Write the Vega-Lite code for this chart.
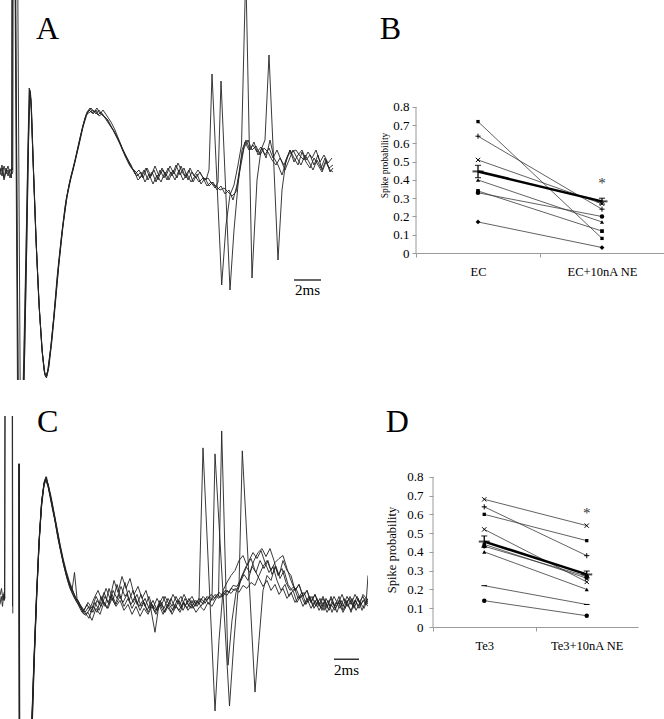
{
"$schema":"https://vega.github.io/schema/vega-lite/v6.json",
"padding":0,
"background":"white",
"config":{
 "view":{"stroke":null},
 "font":"Liberation Serif",
 "title":{"font":"Liberation Serif","fontSize":32,"fontWeight":"normal","anchor":"start","color":"#000"},
 "axis":{"labelFont":"Liberation Serif","titleFont":"Liberation Serif","labelColor":"#000","titleColor":"#000","titleFontWeight":"normal","domainColor":"#9a9a9a","tickColor":"#9a9a9a","grid":false,"tickSize":4,"labelFontSize":13}
},
"datasets":{
"A":[
{"k":"a1","t":0,"v":3},{"k":"a1","t":2,"v":10},{"k":"a1","t":4,"v":-3},{"k":"a1","t":6,"v":7},{"k":"a1","t":8,"v":-1},{"k":"a1","t":10,"v":6},{"k":"a1","t":12,"v":1},{"k":"a1","t":12.8,"v":3},{"k":"a1","t":13.2,"v":235},{"k":"a1","t":15.5,"v":235},{"k":"a1","t":18.3,"v":-265},{"k":"a1","t":22,"v":-265},{"k":"a1","t":24,"v":-185},{"k":"a1","t":26,"v":-85},{"k":"a1","t":28,"v":25},{"k":"a1","t":29.5,"v":86},{"k":"a1","t":31,"v":75},{"k":"a1","t":33,"v":15},{"k":"a1","t":36,"v":-65},{"k":"a1","t":39,"v":-130},{"k":"a1","t":42,"v":-175},{"k":"a1","t":44.5,"v":-198},{"k":"a1","t":46,"v":-202},{"k":"a1","t":48,"v":-195},{"k":"a1","t":51,"v":-170},{"k":"a1","t":54,"v":-140},{"k":"a1","t":58,"v":-95},{"k":"a1","t":62,"v":-57},{"k":"a1","t":66,"v":-25},{"k":"a1","t":70,"v":-5},{"k":"a1","t":74,"v":10},{"k":"a1","t":78,"v":27},{"k":"a1","t":82,"v":45},{"k":"a1","t":86,"v":60},{"k":"a1","t":89,"v":65},{"k":"a1","t":92,"v":62},{"k":"a1","t":95,"v":64},{"k":"a1","t":98,"v":60},{"k":"a1","t":101,"v":63},{"k":"a1","t":104,"v":59},{"k":"a1","t":108,"v":55},{"k":"a1","t":112,"v":47},{"k":"a1","t":116,"v":40},{"k":"a1","t":120,"v":32},{"k":"a1","t":124,"v":23},{"k":"a1","t":128,"v":15},{"k":"a1","t":132,"v":7},{"k":"a1","t":136,"v":3},{"k":"a1","t":140,"v":-3},{"k":"a1","t":144,"v":5},{"k":"a1","t":148,"v":-5},{"k":"a1","t":152,"v":3},{"k":"a1","t":156,"v":-7},{"k":"a1","t":160,"v":5},{"k":"a1","t":164,"v":-3},{"k":"a1","t":168,"v":7},{"k":"a1","t":172,"v":-1},{"k":"a1","t":176,"v":10},{"k":"a1","t":180,"v":0},{"k":"a1","t":184,"v":7},{"k":"a1","t":188,"v":-5},{"k":"a1","t":192,"v":3},{"k":"a1","t":196,"v":-3},{"k":"a1","t":200,"v":3},{"k":"a1","t":204,"v":-5},{"k":"a1","t":208,"v":-3},{"k":"a1","t":212,"v":-9},{"k":"a1","t":216,"v":-11},{"k":"a1","t":220,"v":-15},{"k":"a1","t":224,"v":-13},{"k":"a1","t":228,"v":-17},{"k":"a1","t":232,"v":-21},{"k":"a1","t":236,"v":-17},{"k":"a1","t":240,"v":5},{"k":"a1","t":244,"v":27},{"k":"a1","t":248,"v":35},{"k":"a1","t":252,"v":25},{"k":"a1","t":256,"v":29},{"k":"a1","t":260,"v":20},{"k":"a1","t":264,"v":27},{"k":"a1","t":268,"v":23},{"k":"a1","t":272,"v":15},{"k":"a1","t":276,"v":10},{"k":"a1","t":280,"v":17},{"k":"a1","t":284,"v":10},{"k":"a1","t":288,"v":20},{"k":"a1","t":292,"v":23},{"k":"a1","t":296,"v":25},{"k":"a1","t":300,"v":19},{"k":"a1","t":304,"v":15},{"k":"a1","t":308,"v":23},{"k":"a1","t":312,"v":17},{"k":"a1","t":316,"v":25},{"k":"a1","t":320,"v":13},{"k":"a1","t":324,"v":20},{"k":"a1","t":328,"v":12},{"k":"a1","t":332,"v":17},
{"k":"a2","t":0,"v":7},{"k":"a2","t":2,"v":-1},{"k":"a2","t":4,"v":9},{"k":"a2","t":6,"v":1},{"k":"a2","t":8,"v":5},{"k":"a2","t":10,"v":-3},{"k":"a2","t":12,"v":7},{"k":"a2","t":12.3,"v":5},{"k":"a2","t":12.6,"v":235},{"k":"a2","t":15,"v":235},{"k":"a2","t":18.6,"v":-265},{"k":"a2","t":22.5,"v":-265},{"k":"a2","t":24.5,"v":-185},{"k":"a2","t":26.5,"v":-80},{"k":"a2","t":28.5,"v":35},{"k":"a2","t":30,"v":83},{"k":"a2","t":31.5,"v":65},{"k":"a2","t":33.5,"v":5},{"k":"a2","t":36.5,"v":-75},{"k":"a2","t":39.5,"v":-137},{"k":"a2","t":42.5,"v":-180},{"k":"a2","t":45,"v":-199},{"k":"a2","t":47,"v":-201},{"k":"a2","t":49,"v":-191},{"k":"a2","t":52,"v":-165},{"k":"a2","t":55,"v":-133},{"k":"a2","t":59,"v":-88},{"k":"a2","t":63,"v":-51},{"k":"a2","t":67,"v":-21},{"k":"a2","t":71,"v":-1},{"k":"a2","t":75,"v":15},{"k":"a2","t":79,"v":33},{"k":"a2","t":83,"v":50},{"k":"a2","t":87,"v":63},{"k":"a2","t":90,"v":67},{"k":"a2","t":93,"v":61},{"k":"a2","t":96,"v":65},{"k":"a2","t":99,"v":59},{"k":"a2","t":102,"v":61},{"k":"a2","t":105,"v":57},{"k":"a2","t":109,"v":51},{"k":"a2","t":113,"v":45},{"k":"a2","t":117,"v":37},{"k":"a2","t":121,"v":29},{"k":"a2","t":125,"v":19},{"k":"a2","t":129,"v":11},{"k":"a2","t":133,"v":5},{"k":"a2","t":137,"v":-1},{"k":"a2","t":141,"v":3},{"k":"a2","t":145,"v":-7},{"k":"a2","t":149,"v":1},{"k":"a2","t":153,"v":-9},{"k":"a2","t":157,"v":0},{"k":"a2","t":161,"v":-7},{"k":"a2","t":165,"v":3},{"k":"a2","t":169,"v":-5},{"k":"a2","t":173,"v":5},{"k":"a2","t":177,"v":-3},{"k":"a2","t":181,"v":9},{"k":"a2","t":185,"v":-1},{"k":"a2","t":189,"v":5},{"k":"a2","t":193,"v":-7},{"k":"a2","t":197,"v":1},{"k":"a2","t":201,"v":-9},{"k":"a2","t":205,"v":-3},{"k":"a2","t":209,"v":-11},{"k":"a2","t":213,"v":-7},{"k":"a2","t":217,"v":-15},{"k":"a2","t":221,"v":-11},{"k":"a2","t":225,"v":-19},{"k":"a2","t":229,"v":-15},{"k":"a2","t":233,"v":-25},{"k":"a2","t":237,"v":-10},{"k":"a2","t":241,"v":15},{"k":"a2","t":245,"v":33},{"k":"a2","t":249,"v":25},{"k":"a2","t":253,"v":30},{"k":"a2","t":257,"v":23},{"k":"a2","t":261,"v":28},{"k":"a2","t":265,"v":20},{"k":"a2","t":269,"v":27},{"k":"a2","t":273,"v":17},{"k":"a2","t":277,"v":25},{"k":"a2","t":281,"v":15},{"k":"a2","t":285,"v":5},{"k":"a2","t":289,"v":15},{"k":"a2","t":293,"v":25},{"k":"a2","t":297,"v":17},{"k":"a2","t":301,"v":10},{"k":"a2","t":305,"v":20},{"k":"a2","t":309,"v":13},{"k":"a2","t":313,"v":5},{"k":"a2","t":317,"v":15},{"k":"a2","t":321,"v":7},{"k":"a2","t":325,"v":17},{"k":"a2","t":329,"v":7},{"k":"a2","t":333,"v":10},
{"k":"a3","t":17.5,"v":235},{"k":"a3","t":20.5,"v":-265},{"k":"a3","t":22.8,"v":-265},{"k":"a3","t":24.7,"v":-175},{"k":"a3","t":26.7,"v":-75},{"k":"a3","t":28.6,"v":35},{"k":"a3","t":29.8,"v":85},{"k":"a3","t":31.3,"v":70},{"k":"a3","t":33.3,"v":10},{"k":"a3","t":36.3,"v":-70},{"k":"a3","t":39.3,"v":-133},{"k":"a3","t":42.3,"v":-177},{"k":"a3","t":44.8,"v":-200},{"k":"a3","t":46.5,"v":-203},{"k":"a3","t":48.5,"v":-193},{"k":"a3","t":51.5,"v":-167},{"k":"a3","t":55,"v":-130},{"k":"a3","t":59,"v":-87},{"k":"a3","t":63,"v":-50},{"k":"a3","t":67,"v":-22},{"k":"a3","t":71,"v":-3},{"k":"a3","t":75,"v":13},{"k":"a3","t":79,"v":30},{"k":"a3","t":83,"v":48},{"k":"a3","t":87,"v":61},{"k":"a3","t":90,"v":63},{"k":"a3","t":93,"v":65},{"k":"a3","t":96,"v":61},{"k":"a3","t":99,"v":65},{"k":"a3","t":102,"v":60},{"k":"a3","t":106,"v":57},{"k":"a3","t":110,"v":50},{"k":"a3","t":114,"v":44},{"k":"a3","t":118,"v":36},{"k":"a3","t":122,"v":26},{"k":"a3","t":126,"v":18},{"k":"a3","t":130,"v":9},{"k":"a3","t":134,"v":4},{"k":"a3","t":138,"v":-5},{"k":"a3","t":142,"v":-1},{"k":"a3","t":146,"v":7},{"k":"a3","t":150,"v":-3},{"k":"a3","t":154,"v":5},{"k":"a3","t":158,"v":-5},{"k":"a3","t":162,"v":7},{"k":"a3","t":166,"v":-1},{"k":"a3","t":170,"v":9},{"k":"a3","t":174,"v":1},{"k":"a3","t":178,"v":12},{"k":"a3","t":182,"v":3},{"k":"a3","t":186,"v":-3},{"k":"a3","t":190,"v":7},{"k":"a3","t":194,"v":-1},{"k":"a3","t":198,"v":5},{"k":"a3","t":202,"v":-1},{"k":"a3","t":206,"v":-5},{"k":"a3","t":209,"v":5},{"k":"a3","t":212,"v":101},{"k":"a3","t":221.7,"v":-110},{"k":"a3","t":226,"v":-50},{"k":"a3","t":230,"v":-20},{"k":"a3","t":234,"v":-10},{"k":"a3","t":238,"v":10},{"k":"a3","t":241.5,"v":30},{"k":"a3","t":245.8,"v":205},{"k":"a3","t":252,"v":-103},{"k":"a3","t":257,"v":-5},{"k":"a3","t":261,"v":25},{"k":"a3","t":265,"v":35},{"k":"a3","t":269,"v":120},{"k":"a3","t":278,"v":-85},{"k":"a3","t":282,"v":-15},{"k":"a3","t":286,"v":15},{"k":"a3","t":290,"v":25},{"k":"a3","t":294,"v":13},{"k":"a3","t":298,"v":20},{"k":"a3","t":302,"v":25},{"k":"a3","t":306,"v":15},{"k":"a3","t":310,"v":20},{"k":"a3","t":314,"v":10},{"k":"a3","t":318,"v":20},{"k":"a3","t":322,"v":5},{"k":"a3","t":326,"v":15},{"k":"a3","t":330,"v":3},{"k":"a3","t":333,"v":7},
{"k":"a4","t":0,"v":0},{"k":"a4","t":2,"v":7},{"k":"a4","t":4,"v":-5},{"k":"a4","t":6,"v":3},{"k":"a4","t":8,"v":9},{"k":"a4","t":10,"v":1},{"k":"a4","t":11.5,"v":-3},{"k":"a4","t":11.8,"v":235},{"k":"a4","t":14.8,"v":235},{"k":"a4","t":17.8,"v":-265},{"k":"a4","t":21.8,"v":-265},{"k":"a4","t":23.8,"v":-180},{"k":"a4","t":25.8,"v":-83},{"k":"a4","t":27.8,"v":20},{"k":"a4","t":29.2,"v":87},{"k":"a4","t":30.7,"v":80},{"k":"a4","t":32.7,"v":25},{"k":"a4","t":35.7,"v":-57},{"k":"a4","t":38.7,"v":-123},{"k":"a4","t":41.7,"v":-170},{"k":"a4","t":44,"v":-195},{"k":"a4","t":45.5,"v":-200},{"k":"a4","t":47.5,"v":-197},{"k":"a4","t":50.5,"v":-175},{"k":"a4","t":53.5,"v":-145},{"k":"a4","t":57,"v":-103},{"k":"a4","t":61,"v":-65},{"k":"a4","t":65,"v":-32},{"k":"a4","t":69,"v":-10},{"k":"a4","t":73,"v":5},{"k":"a4","t":77,"v":23},{"k":"a4","t":81,"v":41},{"k":"a4","t":85,"v":57},{"k":"a4","t":88,"v":63},{"k":"a4","t":91,"v":67},{"k":"a4","t":94,"v":63},{"k":"a4","t":97,"v":67},{"k":"a4","t":100,"v":61},{"k":"a4","t":103,"v":65},{"k":"a4","t":107,"v":59},{"k":"a4","t":111,"v":53},{"k":"a4","t":115,"v":45},{"k":"a4","t":119,"v":35},{"k":"a4","t":123,"v":25},{"k":"a4","t":127,"v":17},{"k":"a4","t":131,"v":10},{"k":"a4","t":135,"v":1},{"k":"a4","t":139,"v":5},{"k":"a4","t":143,"v":-3},{"k":"a4","t":147,"v":7},{"k":"a4","t":151,"v":-1},{"k":"a4","t":155,"v":9},{"k":"a4","t":159,"v":-1},{"k":"a4","t":163,"v":5},{"k":"a4","t":167,"v":-5},{"k":"a4","t":171,"v":3},{"k":"a4","t":175,"v":-5},{"k":"a4","t":179,"v":5},{"k":"a4","t":183,"v":-5},{"k":"a4","t":187,"v":1},{"k":"a4","t":191,"v":-7},{"k":"a4","t":195,"v":-1},{"k":"a4","t":199,"v":-7},{"k":"a4","t":203,"v":-3},{"k":"a4","t":207,"v":-11},{"k":"a4","t":211,"v":-7},{"k":"a4","t":215,"v":-13},{"k":"a4","t":218,"v":-7},{"k":"a4","t":221,"v":94},{"k":"a4","t":230,"v":-115},{"k":"a4","t":234,"v":-55},{"k":"a4","t":238,"v":-10},{"k":"a4","t":242,"v":25},{"k":"a4","t":246,"v":35},{"k":"a4","t":250,"v":25},{"k":"a4","t":254,"v":33},{"k":"a4","t":258,"v":20},{"k":"a4","t":262,"v":27},{"k":"a4","t":266,"v":17},{"k":"a4","t":270,"v":35},{"k":"a4","t":274,"v":17},{"k":"a4","t":278,"v":10},{"k":"a4","t":282,"v":0},{"k":"a4","t":286,"v":13},{"k":"a4","t":290,"v":25},{"k":"a4","t":294,"v":17},{"k":"a4","t":298,"v":10},{"k":"a4","t":302,"v":23},{"k":"a4","t":306,"v":13},{"k":"a4","t":310,"v":7},{"k":"a4","t":314,"v":17},{"k":"a4","t":318,"v":10},{"k":"a4","t":322,"v":3},{"k":"a4","t":326,"v":13},{"k":"a4","t":330,"v":5},{"k":"a4","t":333,"v":3}
],
"C":[
{"k":"p1","t":0,"v":5},{"k":"p1","t":1.5,"v":12},{"k":"p1","t":3,"v":0},{"k":"p1","t":4.2,"v":8},{"k":"p1","t":4.8,"v":2},{"k":"p1","t":5.3,"v":270},{"k":"p1","t":12.4,"v":270},{"k":"p1","t":12.8,"v":-13},
{"k":"p2","t":0,"v":-4},{"k":"p2","t":1.2,"v":4},{"k":"p2","t":2.5,"v":-6},{"k":"p2","t":3.7,"v":6},{"k":"p2","t":4.5,"v":0},{"k":"p2","t":5,"v":270},{"k":"p2","t":12.1,"v":270},{"k":"p2","t":12.5,"v":-6},
{"k":"c1","t":19,"v":137},{"k":"c1","t":19.4,"v":-180},{"k":"c1","t":30.5,"v":-180},{"k":"c1","t":32,"v":-119},{"k":"c1","t":34,"v":-60},{"k":"c1","t":36.5,"v":5},{"k":"c1","t":39,"v":60},{"k":"c1","t":41.5,"v":98},{"k":"c1","t":44,"v":118},{"k":"c1","t":46,"v":122},{"k":"c1","t":48.5,"v":112},{"k":"c1","t":51.5,"v":97},{"k":"c1","t":54.5,"v":82},{"k":"c1","t":57.5,"v":65},{"k":"c1","t":60.5,"v":50},{"k":"c1","t":63.5,"v":36},{"k":"c1","t":66.5,"v":24},{"k":"c1","t":69.5,"v":14},{"k":"c1","t":73,"v":6},{"k":"c1","t":77,"v":-2},{"k":"c1","t":81,"v":-8},{"k":"c1","t":85,"v":-12},{"k":"c1","t":89,"v":-6},{"k":"c1","t":93,"v":-12},{"k":"c1","t":97,"v":0},{"k":"c1","t":101,"v":-6},{"k":"c1","t":105,"v":4},{"k":"c1","t":109,"v":-4},{"k":"c1","t":113,"v":10},{"k":"c1","t":117,"v":2},{"k":"c1","t":121,"v":14},{"k":"c1","t":125,"v":4},{"k":"c1","t":129,"v":10},{"k":"c1","t":133,"v":-2},{"k":"c1","t":137,"v":6},{"k":"c1","t":141,"v":-6},{"k":"c1","t":145,"v":2},{"k":"c1","t":149,"v":-8},{"k":"c1","t":153,"v":0},{"k":"c1","t":157,"v":-10},{"k":"c1","t":161,"v":-2},{"k":"c1","t":165,"v":-12},{"k":"c1","t":169,"v":-4},{"k":"c1","t":173,"v":-10},{"k":"c1","t":177,"v":0},{"k":"c1","t":181,"v":-8},{"k":"c1","t":185,"v":2},{"k":"c1","t":189,"v":-6},{"k":"c1","t":193,"v":0},{"k":"c1","t":197,"v":-6},{"k":"c1","t":201,"v":2},{"k":"c1","t":205,"v":-3},{"k":"c1","t":209,"v":4},{"k":"c1","t":213,"v":0},{"k":"c1","t":217,"v":6},{"k":"c1","t":221,"v":3},{"k":"c1","t":225,"v":10},{"k":"c1","t":229,"v":8},{"k":"c1","t":233,"v":15},{"k":"c1","t":237,"v":14},{"k":"c1","t":241,"v":22},{"k":"c1","t":245,"v":30},{"k":"c1","t":249,"v":40},{"k":"c1","t":253,"v":48},{"k":"c1","t":257,"v":42},{"k":"c1","t":261,"v":50},{"k":"c1","t":265,"v":38},{"k":"c1","t":269,"v":28},{"k":"c1","t":273,"v":34},{"k":"c1","t":277,"v":20},{"k":"c1","t":281,"v":10},{"k":"c1","t":285,"v":16},{"k":"c1","t":289,"v":4},{"k":"c1","t":293,"v":10},{"k":"c1","t":297,"v":-2},{"k":"c1","t":301,"v":5},{"k":"c1","t":305,"v":-4},{"k":"c1","t":309,"v":4},{"k":"c1","t":313,"v":-6},{"k":"c1","t":317,"v":2},{"k":"c1","t":321,"v":-8},{"k":"c1","t":325,"v":0},{"k":"c1","t":329,"v":-10},{"k":"c1","t":333,"v":-2},{"k":"c1","t":337,"v":-12},{"k":"c1","t":341,"v":0},{"k":"c1","t":345,"v":-8},{"k":"c1","t":349,"v":2},{"k":"c1","t":353,"v":-6},{"k":"c1","t":357,"v":4},{"k":"c1","t":361,"v":-4},{"k":"c1","t":365,"v":2},{"k":"c1","t":368,"v":-2},
{"k":"c2","t":19.3,"v":137},{"k":"c2","t":19.8,"v":-180},{"k":"c2","t":30.8,"v":-180},{"k":"c2","t":32.5,"v":-119},{"k":"c2","t":34.5,"v":-55},{"k":"c2","t":37,"v":10},{"k":"c2","t":39.5,"v":65},{"k":"c2","t":42,"v":102},{"k":"c2","t":44.5,"v":120},{"k":"c2","t":46.5,"v":124},{"k":"c2","t":49,"v":110},{"k":"c2","t":52,"v":94},{"k":"c2","t":55,"v":80},{"k":"c2","t":58,"v":62},{"k":"c2","t":61,"v":48},{"k":"c2","t":64,"v":34},{"k":"c2","t":67,"v":22},{"k":"c2","t":70,"v":12},{"k":"c2","t":74,"v":3},{"k":"c2","t":78,"v":-4},{"k":"c2","t":82,"v":-12},{"k":"c2","t":86,"v":-15},{"k":"c2","t":90,"v":-8},{"k":"c2","t":94,"v":2},{"k":"c2","t":98,"v":10},{"k":"c2","t":102,"v":0},{"k":"c2","t":106,"v":12},{"k":"c2","t":110,"v":2},{"k":"c2","t":114,"v":20},{"k":"c2","t":118,"v":8},{"k":"c2","t":122,"v":24},{"k":"c2","t":126,"v":12},{"k":"c2","t":130,"v":22},{"k":"c2","t":134,"v":6},{"k":"c2","t":138,"v":14},{"k":"c2","t":142,"v":2},{"k":"c2","t":146,"v":10},{"k":"c2","t":150,"v":-4},{"k":"c2","t":155,"v":-32},{"k":"c2","t":159,"v":-4},{"k":"c2","t":163,"v":4},{"k":"c2","t":167,"v":-6},{"k":"c2","t":171,"v":2},{"k":"c2","t":175,"v":-8},{"k":"c2","t":179,"v":0},{"k":"c2","t":183,"v":-10},{"k":"c2","t":187,"v":-2},{"k":"c2","t":191,"v":-8},{"k":"c2","t":195,"v":0},{"k":"c2","t":199,"v":-4},{"k":"c2","t":203,"v":4},{"k":"c2","t":207,"v":0},{"k":"c2","t":211,"v":6},{"k":"c2","t":215,"v":2},{"k":"c2","t":219,"v":8},{"k":"c2","t":223,"v":4},{"k":"c2","t":227,"v":10},{"k":"c2","t":231,"v":7},{"k":"c2","t":235,"v":12},{"k":"c2","t":239,"v":8},{"k":"c2","t":243,"v":15},{"k":"c2","t":247,"v":12},{"k":"c2","t":251,"v":18},{"k":"c2","t":255,"v":15},{"k":"c2","t":259,"v":25},{"k":"c2","t":263,"v":34},{"k":"c2","t":267,"v":40},{"k":"c2","t":271,"v":30},{"k":"c2","t":275,"v":38},{"k":"c2","t":279,"v":42},{"k":"c2","t":283,"v":45},{"k":"c2","t":287,"v":32},{"k":"c2","t":291,"v":20},{"k":"c2","t":295,"v":10},{"k":"c2","t":299,"v":16},{"k":"c2","t":303,"v":4},{"k":"c2","t":307,"v":10},{"k":"c2","t":311,"v":-2},{"k":"c2","t":315,"v":6},{"k":"c2","t":319,"v":-6},{"k":"c2","t":323,"v":2},{"k":"c2","t":327,"v":-8},{"k":"c2","t":331,"v":4},{"k":"c2","t":335,"v":-6},{"k":"c2","t":339,"v":4},{"k":"c2","t":343,"v":-10},{"k":"c2","t":347,"v":0},{"k":"c2","t":351,"v":-12},{"k":"c2","t":355,"v":0},{"k":"c2","t":359,"v":-6},{"k":"c2","t":363,"v":6},{"k":"c2","t":368,"v":0},
{"k":"c3","t":18.8,"v":137},{"k":"c3","t":19.3,"v":-180},{"k":"c3","t":30.3,"v":-180},{"k":"c3","t":31.8,"v":-119},{"k":"c3","t":33.8,"v":-62},{"k":"c3","t":36.3,"v":2},{"k":"c3","t":38.8,"v":55},{"k":"c3","t":41.3,"v":95},{"k":"c3","t":43.8,"v":116},{"k":"c3","t":45.5,"v":120},{"k":"c3","t":48,"v":115},{"k":"c3","t":51,"v":102},{"k":"c3","t":54,"v":86},{"k":"c3","t":57,"v":70},{"k":"c3","t":60,"v":54},{"k":"c3","t":63,"v":40},{"k":"c3","t":66,"v":28},{"k":"c3","t":69,"v":18},{"k":"c3","t":72,"v":10},{"k":"c3","t":74.5,"v":28},{"k":"c3","t":77,"v":2},{"k":"c3","t":80,"v":-4},{"k":"c3","t":84,"v":-10},{"k":"c3","t":88,"v":-2},{"k":"c3","t":92,"v":-8},{"k":"c3","t":96,"v":4},{"k":"c3","t":100,"v":-4},{"k":"c3","t":104,"v":8},{"k":"c3","t":108,"v":-2},{"k":"c3","t":112,"v":6},{"k":"c3","t":116,"v":-4},{"k":"c3","t":120,"v":4},{"k":"c3","t":124,"v":-6},{"k":"c3","t":128,"v":2},{"k":"c3","t":132,"v":-8},{"k":"c3","t":136,"v":0},{"k":"c3","t":140,"v":-10},{"k":"c3","t":144,"v":-2},{"k":"c3","t":148,"v":-12},{"k":"c3","t":152,"v":-4},{"k":"c3","t":156,"v":-10},{"k":"c3","t":160,"v":0},{"k":"c3","t":164,"v":-8},{"k":"c3","t":168,"v":2},{"k":"c3","t":172,"v":-6},{"k":"c3","t":176,"v":4},{"k":"c3","t":180,"v":-4},{"k":"c3","t":184,"v":6},{"k":"c3","t":188,"v":-2},{"k":"c3","t":192,"v":4},{"k":"c3","t":196,"v":-4},{"k":"c3","t":199,"v":0},{"k":"c3","t":203,"v":153},{"k":"c3","t":215,"v":-111},{"k":"c3","t":219,"v":-40},{"k":"c3","t":223,"v":10},{"k":"c3","t":227,"v":18},{"k":"c3","t":231,"v":25},{"k":"c3","t":235,"v":30},{"k":"c3","t":239,"v":40},{"k":"c3","t":243,"v":45},{"k":"c3","t":247,"v":35},{"k":"c3","t":251,"v":42},{"k":"c3","t":255,"v":30},{"k":"c3","t":259,"v":22},{"k":"c3","t":263,"v":14},{"k":"c3","t":267,"v":20},{"k":"c3","t":271,"v":10},{"k":"c3","t":275,"v":16},{"k":"c3","t":279,"v":6},{"k":"c3","t":283,"v":12},{"k":"c3","t":287,"v":2},{"k":"c3","t":291,"v":8},{"k":"c3","t":295,"v":-2},{"k":"c3","t":299,"v":4},{"k":"c3","t":303,"v":-6},{"k":"c3","t":307,"v":2},{"k":"c3","t":311,"v":-8},{"k":"c3","t":315,"v":0},{"k":"c3","t":319,"v":-10},{"k":"c3","t":323,"v":-2},{"k":"c3","t":327,"v":-12},{"k":"c3","t":331,"v":-4},{"k":"c3","t":335,"v":-10},{"k":"c3","t":339,"v":0},{"k":"c3","t":343,"v":-6},{"k":"c3","t":347,"v":4},{"k":"c3","t":351,"v":-4},{"k":"c3","t":355,"v":6},{"k":"c3","t":359,"v":-2},{"k":"c3","t":363,"v":4},{"k":"c3","t":366,"v":-4},{"k":"c3","t":368,"v":25},
{"k":"c4","t":19.2,"v":137},{"k":"c4","t":19.7,"v":-180},{"k":"c4","t":31,"v":-180},{"k":"c4","t":32.3,"v":-119},{"k":"c4","t":34.3,"v":-58},{"k":"c4","t":36.8,"v":8},{"k":"c4","t":39.3,"v":62},{"k":"c4","t":41.8,"v":100},{"k":"c4","t":44.3,"v":119},{"k":"c4","t":46.2,"v":123},{"k":"c4","t":48.7,"v":113},{"k":"c4","t":51.7,"v":99},{"k":"c4","t":54.7,"v":84},{"k":"c4","t":57.7,"v":68},{"k":"c4","t":60.7,"v":52},{"k":"c4","t":63.7,"v":38},{"k":"c4","t":66.7,"v":26},{"k":"c4","t":69.7,"v":16},{"k":"c4","t":73,"v":8},{"k":"c4","t":77,"v":0},{"k":"c4","t":81,"v":-6},{"k":"c4","t":85,"v":-12},{"k":"c4","t":89,"v":-18},{"k":"c4","t":93,"v":-6},{"k":"c4","t":97,"v":-12},{"k":"c4","t":101,"v":4},{"k":"c4","t":105,"v":-6},{"k":"c4","t":109,"v":12},{"k":"c4","t":113,"v":0},{"k":"c4","t":117,"v":16},{"k":"c4","t":121,"v":2},{"k":"c4","t":125,"v":18},{"k":"c4","t":129,"v":0},{"k":"c4","t":133,"v":10},{"k":"c4","t":137,"v":-4},{"k":"c4","t":141,"v":6},{"k":"c4","t":145,"v":-6},{"k":"c4","t":149,"v":4},{"k":"c4","t":153,"v":-8},{"k":"c4","t":157,"v":2},{"k":"c4","t":161,"v":-6},{"k":"c4","t":165,"v":4},{"k":"c4","t":169,"v":-4},{"k":"c4","t":173,"v":6},{"k":"c4","t":177,"v":-2},{"k":"c4","t":181,"v":4},{"k":"c4","t":185,"v":-6},{"k":"c4","t":189,"v":2},{"k":"c4","t":193,"v":-8},{"k":"c4","t":197,"v":0},{"k":"c4","t":201,"v":-6},{"k":"c4","t":205,"v":2},{"k":"c4","t":209,"v":-4},{"k":"c4","t":212,"v":2},{"k":"c4","t":215,"v":147},{"k":"c4","t":229.5,"v":-106},{"k":"c4","t":234,"v":-40},{"k":"c4","t":238,"v":10},{"k":"c4","t":242,"v":25},{"k":"c4","t":246,"v":34},{"k":"c4","t":250,"v":28},{"k":"c4","t":254,"v":40},{"k":"c4","t":258,"v":48},{"k":"c4","t":262,"v":52},{"k":"c4","t":266,"v":44},{"k":"c4","t":270,"v":52},{"k":"c4","t":274,"v":40},{"k":"c4","t":278,"v":25},{"k":"c4","t":282,"v":32},{"k":"c4","t":286,"v":18},{"k":"c4","t":290,"v":10},{"k":"c4","t":294,"v":14},{"k":"c4","t":298,"v":2},{"k":"c4","t":302,"v":8},{"k":"c4","t":306,"v":-4},{"k":"c4","t":310,"v":4},{"k":"c4","t":314,"v":-8},{"k":"c4","t":318,"v":0},{"k":"c4","t":322,"v":-10},{"k":"c4","t":326,"v":2},{"k":"c4","t":330,"v":-6},{"k":"c4","t":334,"v":4},{"k":"c4","t":338,"v":-4},{"k":"c4","t":342,"v":6},{"k":"c4","t":346,"v":-4},{"k":"c4","t":350,"v":4},{"k":"c4","t":354,"v":-8},{"k":"c4","t":358,"v":2},{"k":"c4","t":362,"v":-10},{"k":"c4","t":366,"v":0},{"k":"c4","t":368,"v":-4},
{"k":"c5","t":19.1,"v":137},{"k":"c5","t":19.6,"v":-180},{"k":"c5","t":30.6,"v":-180},{"k":"c5","t":32.1,"v":-119},{"k":"c5","t":34.1,"v":-60},{"k":"c5","t":36.6,"v":4},{"k":"c5","t":39.1,"v":58},{"k":"c5","t":41.6,"v":97},{"k":"c5","t":44.1,"v":117},{"k":"c5","t":45.8,"v":124},{"k":"c5","t":48.2,"v":116},{"k":"c5","t":51.2,"v":101},{"k":"c5","t":54.2,"v":85},{"k":"c5","t":57.2,"v":69},{"k":"c5","t":60.2,"v":53},{"k":"c5","t":63.2,"v":39},{"k":"c5","t":66.2,"v":27},{"k":"c5","t":69.2,"v":17},{"k":"c5","t":72.5,"v":10},{"k":"c5","t":76,"v":2},{"k":"c5","t":80,"v":-6},{"k":"c5","t":84,"v":-14},{"k":"c5","t":88,"v":-12},{"k":"c5","t":92,"v":-20},{"k":"c5","t":96,"v":-8},{"k":"c5","t":100,"v":-14},{"k":"c5","t":104,"v":-2},{"k":"c5","t":108,"v":-8},{"k":"c5","t":112,"v":2},{"k":"c5","t":116,"v":-6},{"k":"c5","t":120,"v":0},{"k":"c5","t":124,"v":-10},{"k":"c5","t":128,"v":-4},{"k":"c5","t":132,"v":-14},{"k":"c5","t":136,"v":-6},{"k":"c5","t":140,"v":-16},{"k":"c5","t":144,"v":-8},{"k":"c5","t":148,"v":-14},{"k":"c5","t":152,"v":-6},{"k":"c5","t":156,"v":-14},{"k":"c5","t":160,"v":-4},{"k":"c5","t":164,"v":-12},{"k":"c5","t":168,"v":-4},{"k":"c5","t":172,"v":-14},{"k":"c5","t":176,"v":-6},{"k":"c5","t":180,"v":-12},{"k":"c5","t":184,"v":-2},{"k":"c5","t":188,"v":-10},{"k":"c5","t":192,"v":-4},{"k":"c5","t":196,"v":-12},{"k":"c5","t":200,"v":-6},{"k":"c5","t":204,"v":-10},{"k":"c5","t":208,"v":-2},{"k":"c5","t":212,"v":-6},{"k":"c5","t":216,"v":2},{"k":"c5","t":218.5,"v":4},{"k":"c5","t":221.7,"v":170},{"k":"c5","t":228,"v":-65},{"k":"c5","t":232,"v":-20},{"k":"c5","t":236,"v":8},{"k":"c5","t":240,"v":18},{"k":"c5","t":244,"v":26},{"k":"c5","t":248,"v":20},{"k":"c5","t":252,"v":34},{"k":"c5","t":256,"v":28},{"k":"c5","t":260,"v":40},{"k":"c5","t":264,"v":32},{"k":"c5","t":268,"v":40},{"k":"c5","t":272,"v":26},{"k":"c5","t":276,"v":34},{"k":"c5","t":280,"v":22},{"k":"c5","t":284,"v":30},{"k":"c5","t":288,"v":16},{"k":"c5","t":292,"v":10},{"k":"c5","t":296,"v":12},{"k":"c5","t":300,"v":2},{"k":"c5","t":304,"v":8},{"k":"c5","t":308,"v":-2},{"k":"c5","t":312,"v":4},{"k":"c5","t":316,"v":-6},{"k":"c5","t":320,"v":2},{"k":"c5","t":324,"v":-10},{"k":"c5","t":328,"v":0},{"k":"c5","t":332,"v":-12},{"k":"c5","t":336,"v":-2},{"k":"c5","t":340,"v":-8},{"k":"c5","t":344,"v":2},{"k":"c5","t":348,"v":-6},{"k":"c5","t":352,"v":2},{"k":"c5","t":356,"v":-10},{"k":"c5","t":360,"v":-2},{"k":"c5","t":364,"v":-8},{"k":"c5","t":368,"v":2},
{"k":"c6","t":18.9,"v":137},{"k":"c6","t":19.4,"v":-180},{"k":"c6","t":30.4,"v":-180},{"k":"c6","t":31.9,"v":-119},{"k":"c6","t":33.9,"v":-64},{"k":"c6","t":36.4,"v":0},{"k":"c6","t":38.9,"v":53},{"k":"c6","t":41.4,"v":92},{"k":"c6","t":43.9,"v":114},{"k":"c6","t":45.7,"v":121},{"k":"c6","t":48.1,"v":117},{"k":"c6","t":51.1,"v":104},{"k":"c6","t":54.1,"v":88},{"k":"c6","t":57.1,"v":72},{"k":"c6","t":60.1,"v":56},{"k":"c6","t":63.1,"v":42},{"k":"c6","t":66.1,"v":30},{"k":"c6","t":69.1,"v":20},{"k":"c6","t":72,"v":12},{"k":"c6","t":75,"v":4},{"k":"c6","t":79,"v":-2},{"k":"c6","t":83,"v":-12},{"k":"c6","t":87,"v":-4},{"k":"c6","t":91,"v":-12},{"k":"c6","t":95,"v":-2},{"k":"c6","t":99,"v":-10},{"k":"c6","t":103,"v":0},{"k":"c6","t":107,"v":-8},{"k":"c6","t":111,"v":4},{"k":"c6","t":115,"v":-4},{"k":"c6","t":119,"v":6},{"k":"c6","t":123,"v":-2},{"k":"c6","t":127,"v":6},{"k":"c6","t":131,"v":-4},{"k":"c6","t":135,"v":4},{"k":"c6","t":139,"v":-6},{"k":"c6","t":143,"v":0},{"k":"c6","t":147,"v":-10},{"k":"c6","t":151,"v":-2},{"k":"c6","t":155,"v":-12},{"k":"c6","t":159,"v":-4},{"k":"c6","t":163,"v":-14},{"k":"c6","t":167,"v":-6},{"k":"c6","t":171,"v":-12},{"k":"c6","t":175,"v":-4},{"k":"c6","t":179,"v":-10},{"k":"c6","t":183,"v":-2},{"k":"c6","t":187,"v":-8},{"k":"c6","t":191,"v":0},{"k":"c6","t":195,"v":-6},{"k":"c6","t":199,"v":2},{"k":"c6","t":203,"v":-4},{"k":"c6","t":207,"v":4},{"k":"c6","t":211,"v":0},{"k":"c6","t":215,"v":6},{"k":"c6","t":219,"v":2},{"k":"c6","t":223,"v":8},{"k":"c6","t":227,"v":5},{"k":"c6","t":231,"v":12},{"k":"c6","t":235,"v":10},{"k":"c6","t":239,"v":14},{"k":"c6","t":242.3,"v":150},{"k":"c6","t":255,"v":-92},{"k":"c6","t":259,"v":-40},{"k":"c6","t":263,"v":10},{"k":"c6","t":267,"v":25},{"k":"c6","t":271,"v":20},{"k":"c6","t":275,"v":34},{"k":"c6","t":279,"v":25},{"k":"c6","t":283,"v":40},{"k":"c6","t":287,"v":30},{"k":"c6","t":291,"v":25},{"k":"c6","t":295,"v":10},{"k":"c6","t":299,"v":16},{"k":"c6","t":303,"v":4},{"k":"c6","t":307,"v":10},{"k":"c6","t":311,"v":-2},{"k":"c6","t":315,"v":6},{"k":"c6","t":319,"v":-4},{"k":"c6","t":323,"v":4},{"k":"c6","t":327,"v":-6},{"k":"c6","t":331,"v":2},{"k":"c6","t":335,"v":-8},{"k":"c6","t":339,"v":-2},{"k":"c6","t":343,"v":-12},{"k":"c6","t":347,"v":-4},{"k":"c6","t":351,"v":-10},{"k":"c6","t":355,"v":0},{"k":"c6","t":359,"v":-8},{"k":"c6","t":363,"v":0},{"k":"c6","t":368,"v":-6}
],
"B":[
{"s":"b1","c":"EC","p":0.72,"m":"sq"},{"s":"b1","c":"EC+10nA NE","p":0.08,"m":"sq"},
{"s":"b2","c":"EC","p":0.64,"m":"plus"},{"s":"b2","c":"EC+10nA NE","p":0.24,"m":"plus"},
{"s":"b3","c":"EC","p":0.51,"m":"x"},{"s":"b3","c":"EC+10nA NE","p":0.27,"m":"x"},
{"s":"b4","c":"EC","p":0.4,"m":"tri"},{"s":"b4","c":"EC+10nA NE","p":0.17,"m":"tri"},
{"s":"b5","c":"EC","p":0.34,"m":"bigsq"},{"s":"b5","c":"EC+10nA NE","p":0.12,"m":"bigsq"},
{"s":"b6","c":"EC","p":0.33,"m":"circ"},{"s":"b6","c":"EC+10nA NE","p":0.2,"m":"circ"},
{"s":"b7","c":"EC","p":0.17,"m":"diamond"},{"s":"b7","c":"EC+10nA NE","p":0.03,"m":"diamond"}
],
"Bm":[{"c":"EC","p":0.447},{"c":"EC+10nA NE","p":0.283}],
"Be":[{"c":"EC","p":0.413,"p2":0.48},{"c":"EC+10nA NE","p":0.268,"p2":0.3}],
"Bc":[{"c":"EC","p":0.413},{"c":"EC","p":0.48},{"c":"EC+10nA NE","p":0.268},{"c":"EC+10nA NE","p":0.3}],
"D":[
{"s":"d1","c":"Te3","p":0.68,"m":"x"},{"s":"d1","c":"Te3+10nA NE","p":0.54,"m":"x"},
{"s":"d2","c":"Te3","p":0.64,"m":"plus"},{"s":"d2","c":"Te3+10nA NE","p":0.38,"m":"plus"},
{"s":"d3","c":"Te3","p":0.6,"m":"sq"},{"s":"d3","c":"Te3+10nA NE","p":0.46,"m":"sq"},
{"s":"d4","c":"Te3","p":0.52,"m":"x"},{"s":"d4","c":"Te3+10nA NE","p":0.24,"m":"x"},
{"s":"d5","c":"Te3","p":0.44,"m":"sq"},{"s":"d5","c":"Te3+10nA NE","p":0.26,"m":"sq"},
{"s":"d6","c":"Te3","p":0.43,"m":"circ"},{"s":"d6","c":"Te3+10nA NE","p":0.27,"m":"circ"},
{"s":"d7","c":"Te3","p":0.4,"m":"tri"},{"s":"d7","c":"Te3+10nA NE","p":0.2,"m":"tri"},
{"s":"d8","c":"Te3","p":0.22,"m":"dash"},{"s":"d8","c":"Te3+10nA NE","p":0.12,"m":"dash"},
{"s":"d9","c":"Te3","p":0.14,"m":"circ"},{"s":"d9","c":"Te3+10nA NE","p":0.06,"m":"circ"}
],
"Dm":[{"c":"Te3","p":0.455},{"c":"Te3+10nA NE","p":0.28}],
"De":[{"c":"Te3","p":0.425,"p2":0.485},{"c":"Te3+10nA NE","p":0.262,"p2":0.298}],
"Dc":[{"c":"Te3","p":0.425},{"c":"Te3","p":0.485},{"c":"Te3+10nA NE","p":0.262},{"c":"Te3+10nA NE","p":0.298}]
},
"spacing":26,
"vconcat":[
{"spacing":44,"hconcat":[
 {"width":335,"height":380,
  "title":{"text":"A","frame":"group","offset":-46,"dx":36},
  "encoding":{
   "x":{"field":"t","type":"quantitative","scale":{"domain":[0,335],"nice":false,"zero":false},"axis":null},
   "y":{"field":"v","type":"quantitative","scale":{"domain":[-205,175],"nice":false,"zero":false},"axis":null}},
  "layer":[
   {"data":{"name":"A"},"mark":{"type":"line","color":"#222","strokeWidth":0.9,"clip":true},"encoding":{"detail":{"field":"k"}}},
   {"data":{"values":[{"t":294,"t2":321,"v":-105}]},"mark":{"type":"rule","color":"#000","strokeWidth":1.2},"encoding":{"x2":{"field":"t2"}}},
   {"data":{"values":[{"t":307.5,"v":-120,"label":"2ms"}]},"mark":{"type":"text","fontSize":15,"baseline":"alphabetic","align":"center","font":"Liberation Serif","fill":"#000"},"encoding":{"text":{"field":"label"}}}
  ]},
 {"width":248,"height":253,
  "title":{"text":"B","frame":"bounds","offset":-46},
  "encoding":{
   "x":{"field":"c","type":"nominal","sort":["EC","EC+10nA NE"],"scale":{"paddingInner":0,"paddingOuter":0},
        "axis":{"title":null,"labelAngle":0,"labelFontSize":12.5,"tickOffset":-62,"labelOffset":62,"labelPadding":8}},
   "y":{"field":"p","type":"quantitative","scale":{"domain":[0,1.3863],"nice":false,"zero":true},
        "axis":{"title":"Spike probability","titleFontSize":9.5,"titleY":165,"titlePadding":3,"labelPadding":3,"domain":false,"values":[0,0.1,0.2,0.3,0.4,0.5,0.6,0.7,0.8],"format":".1~f"}}},
  "layer":[
   {"data":{"values":[{"c":"EC","p":0,"p2":0.8}]},"mark":{"type":"rule","color":"#9a9a9a","strokeWidth":1},
    "encoding":{"x":{"field":"c","type":"nominal","bandPosition":0,"sort":["EC","EC+10nA NE"],"scale":{"paddingInner":0,"paddingOuter":0},
        "axis":{"title":null,"labelAngle":0,"labelFontSize":12.5,"tickOffset":-62,"labelOffset":62,"labelPadding":8}},"y2":{"field":"p2"}}},
   {"data":{"name":"B"},"mark":{"type":"line","color":"#3a3a3a","strokeWidth":0.8},"encoding":{"detail":{"field":"s"}}},
   {"data":{"name":"B"},"transform":[{"filter":{"field":"m","oneOf":["sq","bigsq","tri","circ","diamond"]}}],
    "mark":{"type":"point","filled":true,"color":"#000","opacity":1},
    "encoding":{"shape":{"field":"m","type":"nominal","legend":null,"scale":{"domain":["sq","bigsq","tri","circ","diamond","plus","x","dash"],"range":["square","square","triangle-up","circle","diamond","M-1,0H1M0,-1V1","M-0.8,-0.8L0.8,0.8M-0.8,0.8L0.8,-0.8","M-1,0H1"]}},
                "size":{"field":"m","type":"nominal","legend":null,"scale":{"domain":["sq","bigsq","tri","circ","diamond","plus","x","dash"],"range":[11,32,13,9,11,9,9,10]}}}},
   {"data":{"name":"B"},"transform":[{"filter":{"field":"m","oneOf":["plus","x","dash"]}}],
    "mark":{"type":"point","filled":false,"color":"#000","opacity":1,"strokeWidth":1},
    "encoding":{"shape":{"field":"m","type":"nominal","legend":null,"scale":{"domain":["sq","bigsq","tri","circ","diamond","plus","x","dash"],"range":["square","square","triangle-up","circle","diamond","M-1,0H1M0,-1V1","M-0.8,-0.8L0.8,0.8M-0.8,0.8L0.8,-0.8","M-1,0H1"]}},
                "size":{"field":"m","type":"nominal","legend":null,"scale":{"domain":["sq","bigsq","tri","circ","diamond","plus","x","dash"],"range":[11,32,13,9,11,9,9,10]}}}},
   {"data":{"name":"Bm"},"mark":{"type":"line","color":"#000","strokeWidth":2.5}},
   {"data":{"name":"Be"},"mark":{"type":"rule","color":"#000","strokeWidth":1.3},"encoding":{"y2":{"field":"p2"}}},
   {"data":{"name":"Bc"},"mark":{"type":"tick","color":"#000","thickness":1.3,"size":6}},
   {"data":{"name":"Bm"},"mark":{"type":"tick","color":"#000","thickness":2,"size":11}},
   {"data":{"values":[{"c":"EC+10nA NE","p":0.385,"label":"*"}]},"mark":{"type":"text","fontSize":15,"baseline":"middle","align":"center","fill":"#333","font":"Liberation Serif"},"encoding":{"text":{"field":"label"}}}
  ]}
]},
{"spacing":17,"hconcat":[
 {"width":368,"height":303,
  "title":{"text":"C","frame":"group","offset":-23,"dx":37},
  "encoding":{
   "x":{"field":"t","type":"quantitative","scale":{"domain":[0,368],"nice":false,"zero":false},"axis":null},
   "y":{"field":"v","type":"quantitative","scale":{"domain":[-119,185],"nice":false,"zero":false},"axis":null}},
  "layer":[
   {"data":{"name":"C"},"mark":{"type":"line","color":"#222","strokeWidth":0.9,"clip":true},"encoding":{"detail":{"field":"k"}}},
   {"data":{"values":[{"t":334,"t2":359,"v":-59}]},"mark":{"type":"rule","color":"#000","strokeWidth":1.2},"encoding":{"x2":{"field":"t2"}}},
   {"data":{"values":[{"t":346.5,"v":-75,"label":"2ms"}]},"mark":{"type":"text","fontSize":15,"baseline":"alphabetic","align":"center","font":"Liberation Serif","fill":"#000"},"encoding":{"text":{"field":"label"}}}
  ]},
 {"width":205,"height":211,
  "title":{"text":"D","frame":"bounds","offset":-23},
  "encoding":{
   "x":{"field":"c","type":"nominal","sort":["Te3","Te3+10nA NE"],"scale":{"paddingInner":0,"paddingOuter":0},
        "axis":{"title":null,"labelAngle":0,"labelFontSize":12.5,"tickOffset":-51,"labelOffset":51,"labelPadding":8}},
   "y":{"field":"p","type":"quantitative","scale":{"domain":[0,1.1238],"nice":false,"zero":true},
        "axis":{"title":"Spike probability","titleFontSize":12.5,"titleY":133.5,"titlePadding":8,"labelPadding":6,"domain":false,"values":[0,0.1,0.2,0.3,0.4,0.5,0.6,0.7,0.8],"format":".1~f"}}},
  "layer":[
   {"data":{"values":[{"c":"Te3","p":0,"p2":0.8}]},"mark":{"type":"rule","color":"#9a9a9a","strokeWidth":1},
    "encoding":{"x":{"field":"c","type":"nominal","bandPosition":0,"sort":["Te3","Te3+10nA NE"],"scale":{"paddingInner":0,"paddingOuter":0},
        "axis":{"title":null,"labelAngle":0,"labelFontSize":12.5,"tickOffset":-51,"labelOffset":51,"labelPadding":8}},"y2":{"field":"p2"}}},
   {"data":{"name":"D"},"mark":{"type":"line","color":"#3a3a3a","strokeWidth":0.8},"encoding":{"detail":{"field":"s"}}},
   {"data":{"name":"D"},"transform":[{"filter":{"field":"m","oneOf":["sq","bigsq","tri","circ","diamond"]}}],
    "mark":{"type":"point","filled":true,"color":"#000","opacity":1},
    "encoding":{"shape":{"field":"m","type":"nominal","legend":null,"scale":{"domain":["sq","bigsq","tri","circ","diamond","plus","x","dash"],"range":["square","square","triangle-up","circle","diamond","M-1,0H1M0,-1V1","M-0.8,-0.8L0.8,0.8M-0.8,0.8L0.8,-0.8","M-1,0H1"]}},
                "size":{"field":"m","type":"nominal","legend":null,"scale":{"domain":["sq","bigsq","tri","circ","diamond","plus","x","dash"],"range":[11,32,13,9,11,9,9,10]}}}},
   {"data":{"name":"D"},"transform":[{"filter":{"field":"m","oneOf":["plus","x","dash"]}}],
    "mark":{"type":"point","filled":false,"color":"#000","opacity":1,"strokeWidth":1},
    "encoding":{"shape":{"field":"m","type":"nominal","legend":null,"scale":{"domain":["sq","bigsq","tri","circ","diamond","plus","x","dash"],"range":["square","square","triangle-up","circle","diamond","M-1,0H1M0,-1V1","M-0.8,-0.8L0.8,0.8M-0.8,0.8L0.8,-0.8","M-1,0H1"]}},
                "size":{"field":"m","type":"nominal","legend":null,"scale":{"domain":["sq","bigsq","tri","circ","diamond","plus","x","dash"],"range":[11,32,13,9,11,9,9,10]}}}},
   {"data":{"name":"Dm"},"mark":{"type":"line","color":"#000","strokeWidth":2.5}},
   {"data":{"name":"De"},"mark":{"type":"rule","color":"#000","strokeWidth":1.3},"encoding":{"y2":{"field":"p2"}}},
   {"data":{"name":"Dc"},"mark":{"type":"tick","color":"#000","thickness":1.3,"size":6}},
   {"data":{"name":"Dm"},"mark":{"type":"tick","color":"#000","thickness":2,"size":11}},
   {"data":{"values":[{"c":"Te3+10nA NE","p":0.605,"label":"*"}]},"mark":{"type":"text","fontSize":15,"baseline":"middle","align":"center","fill":"#333","font":"Liberation Serif"},"encoding":{"text":{"field":"label"}}}
  ]}
]}
]
}
